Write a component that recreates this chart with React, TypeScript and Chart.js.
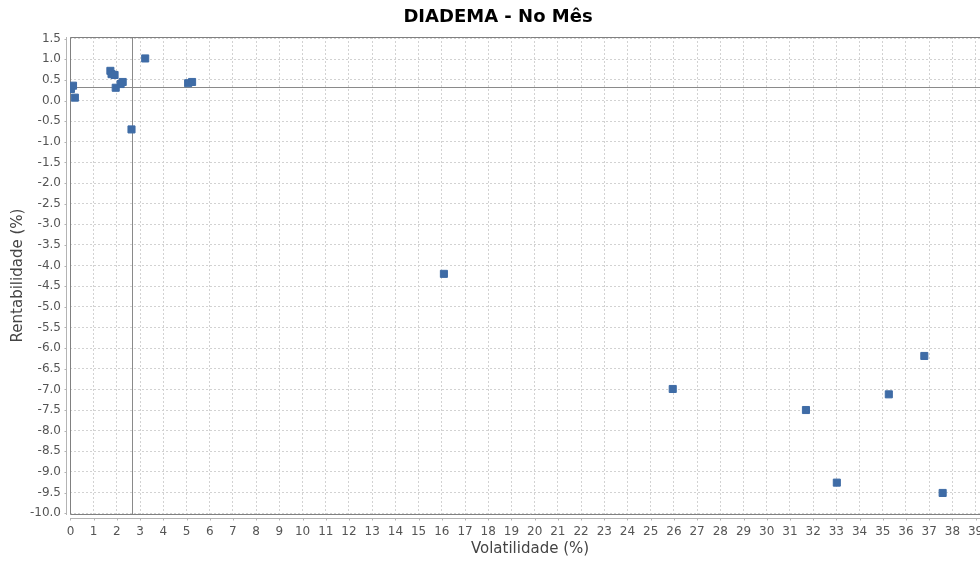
import React, { useEffect, useRef } from "react";
import { Chart, registerables } from "chart.js";

Chart.register(...registerables);

const TITLE = "DIADEMA - No Mês";
const X_LABEL = "Volatilidade (%)";
const Y_LABEL = "Rentabilidade (%)";

const VOLATILIDADE = [
  0.02, 0.11, 0.19, 1.72, 1.77, 1.9, 1.95, 2.16, 2.25, 2.63, 3.22, 5.07, 5.24,
  16.09, 25.95, 31.69, 33.02, 35.26, 36.79, 37.58,
];
const RENTABILIDADE = [
  0.28, 0.36, 0.07, 0.72, 0.64, 0.62, 0.31, 0.4, 0.45, -0.7, 1.02, 0.42, 0.45,
  -4.2, -6.99, -7.5, -9.26, -7.12, -6.19, -9.51,
];

// reference (crosshair) lines
const REF_X = 2.63;
const REF_Y = 0.325;

const X_MIN = -0.02;
const X_MAX = 39.62;
const X_STEP = 1;
const Y_MIN = -10.02;
const Y_MAX = 1.54;
const Y_STEP = 0.5;

const FONT = "'DejaVu Sans', Verdana, sans-serif";

const framePlugin = {
  id: "frame",
  beforeDatasetsDraw(chart: any) {
    const { ctx, chartArea: a, scales } = chart;
    const x = scales.x;
    const y = scales.y;
    ctx.save();
    ctx.lineWidth = 1;
    // reference lines
    ctx.strokeStyle = "#8a8a8a";
    const px = Math.round(x.getPixelForValue(REF_X)) + 0.5;
    const py = Math.round(y.getPixelForValue(REF_Y)) + 0.5;
    ctx.beginPath();
    ctx.moveTo(px, a.top);
    ctx.lineTo(px, a.bottom);
    ctx.moveTo(a.left, py);
    ctx.lineTo(a.right, py);
    ctx.stroke();
    // plot border
    ctx.strokeStyle = "#808080";
    ctx.beginPath();
    ctx.moveTo(a.right, a.top + 0.5);
    ctx.lineTo(a.left + 0.5, a.top + 0.5);
    ctx.lineTo(a.left + 0.5, a.bottom + 0.5);
    ctx.lineTo(a.right, a.bottom + 0.5);
    ctx.stroke();
    // offset axis lines with tick marks
    ctx.strokeStyle = "#b4b4b4";
    const ax = a.left - 3.5;
    const ay = a.bottom + 4.5;
    ctx.beginPath();
    ctx.moveTo(ax, a.top);
    ctx.lineTo(ax, a.bottom + 1);
    y.ticks.forEach((t: any) => {
      const ty = Math.round(y.getPixelForValue(t.value)) + 0.5;
      ctx.moveTo(ax - 2, ty);
      ctx.lineTo(ax, ty);
    });
    ctx.moveTo(a.left, ay);
    ctx.lineTo(a.right, ay);
    x.ticks.forEach((t: any) => {
      const tx = Math.round(x.getPixelForValue(t.value)) + 0.5;
      ctx.moveTo(tx, ay);
      ctx.lineTo(tx, ay + 2);
    });
    ctx.stroke();
    ctx.restore();
  },
};

export default function App() {
  const ref = useRef<HTMLCanvasElement | null>(null);

  useEffect(() => {
    if (!ref.current) return;
    const points = VOLATILIDADE.map((v, i) => ({ x: v, y: RENTABILIDADE[i] }));
    const chart = new Chart(ref.current, {
      type: "scatter",
      data: {
        datasets: [
          {
            label: "DIADEMA",
            data: points,
            pointStyle: "rect",
            pointRadius: 5,
            pointBackgroundColor: "#3f6ca6",
            pointBorderColor: "#3f6ca6",
            pointBorderWidth: 1,
          },
        ],
      },
      options: {
        responsive: false,
        animation: false,
        devicePixelRatio: 1,
        layout: { padding: 0 },
        plugins: {
          legend: { display: false },
          tooltip: { enabled: false },
          title: {
            display: true,
            text: TITLE,
            color: "#000",
            font: { family: FONT, size: 18, weight: "bold" },
            padding: { top: 6.5, bottom: 8.9 },
          },
        },
        scales: {
          x: {
            type: "linear",
            min: X_MIN,
            max: X_MAX,
            afterFit: (s: any) => {
              s.height = 48;
            },
            ticks: {
              stepSize: X_STEP,
              includeBounds: false,
              autoSkip: false,
              maxRotation: 0,
              padding: 0,
              color: "#555",
              font: { family: FONT, size: 12 },
              callback: (v: any) => String(Math.round(Number(v))),
            },
            grid: {
              color: "#d2d2d2",
              lineWidth: 1,
              drawTicks: true,
              tickLength: 11,
              tickColor: "rgba(0,0,0,0)",
            },
            border: { display: false, dash: [2, 2] },
            title: {
              display: true,
              text: X_LABEL,
              color: "#444",
              font: { family: FONT, size: 15 },
              padding: { top: 0, bottom: 4 },
            },
          },
          y: {
            type: "linear",
            min: Y_MIN,
            max: Y_MAX,
            afterFit: (s: any) => {
              s.width = 70;
            },
            ticks: {
              stepSize: Y_STEP,
              includeBounds: false,
              autoSkip: false,
              padding: 9,
              color: "#555",
              font: { family: FONT, size: 12 },
              callback: (v: any) => Number(v).toFixed(1),
            },
            grid: {
              color: "#d2d2d2",
              lineWidth: 1,
              drawTicks: false,
            },
            border: { display: false, dash: [2, 2] },
            title: {
              display: true,
              text: Y_LABEL,
              color: "#444",
              font: { family: FONT, size: 15 },
              padding: { top: 9, bottom: 0 },
            },
          },
        },
      },
      plugins: [framePlugin],
    });
    return () => chart.destroy();
  }, []);

  return (
    <div
      style={{
        position: "fixed",
        left: 0,
        top: 0,
        width: 980,
        height: 562,
        overflow: "hidden",
        background: "#fff",
      }}
    >
      <canvas ref={ref} width={996} height={562} style={{ display: "block" }} />
    </div>
  );
}
